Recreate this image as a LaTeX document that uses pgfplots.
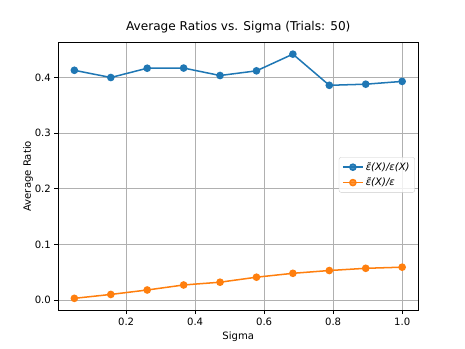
\documentclass[border=0pt]{standalone}
\usepackage{fontspec}
\setmainfont{DejaVu Sans}
\usepackage{pgfplots}
\pgfplotsset{compat=1.18}

\definecolor{tabblue}{HTML}{1F77B4}
\definecolor{taborange}{HTML}{FF7F0E}
\definecolor{gridgray}{HTML}{B0B0B0}

\begin{document}
\begin{tikzpicture}
\begin{axis}[
    name=ax,
    scale only axis,
    width=357pt, height=266pt,
    xmin=0.0025, xmax=1.0475,
    ymin=-0.019, ymax=0.464,
    xtick={0.2,0.4,0.6,0.8,1.0},
    ytick={0,0.1,0.2,0.3,0.4},
    /pgf/number format/assume math mode=true,
    xticklabel style={/pgf/number format/.cd,fixed,fixed zerofill,precision=1},
    yticklabel style={/pgf/number format/.cd,fixed,fixed zerofill,precision=1},
    tick align=outside,
    major tick length=3.5pt,
    tick style={black, line width=0.8pt},
    xtick pos=bottom, ytick pos=left,
    axis line style={line width=0.8pt},
    grid=major,
    major grid style={gridgray, line width=0.8pt},
    tick label style={font=\fontsize{10}{12}\selectfont},
    label style={font=\fontsize{10}{12}\selectfont},
    ylabel style={yshift=-5pt},
    title style={font=\fontsize{12}{14}\selectfont, yshift=-1pt},
    title={Average Ratios vs. Sigma (Trials: 50)},
    xlabel={Sigma},
    ylabel={Average Ratio},
    legend style={at={(0.99,0.505)}, anchor=east, draw=black!20,
        fill=white, fill opacity=0.8, text opacity=1, rounded corners=2pt,
        font=\fontsize{10}{12}\selectfont, row sep=2pt, inner sep=3pt},
    legend cell align=left,
    legend image code/.code={
        \draw[mark repeat=2,mark phase=2] plot coordinates {(0pt,0pt) (10pt,0pt) (20pt,0pt)};
    },
]
\addplot[tabblue, line width=1.5pt, mark=*, mark size=3pt, mark options={solid, fill=tabblue, draw=none}] coordinates {
    (0.05,0.413) (0.1556,0.400) (0.2611,0.4167) (0.3667,0.417) (0.4722,0.4036)
    (0.5778,0.412) (0.6833,0.442) (0.7889,0.386) (0.8944,0.388) (1.0,0.393)
};
\addlegendentry{\textit{ε̃(X)/ε(X)}}
\addplot[taborange, line width=1.5pt, mark=*, mark size=3pt, mark options={solid, fill=taborange, draw=none}] coordinates {
    (0.05,0.003) (0.1556,0.010) (0.2611,0.018) (0.3667,0.027) (0.4722,0.032)
    (0.5778,0.041) (0.6833,0.048) (0.7889,0.053) (0.8944,0.057) (1.0,0.059)
};
\addlegendentry{\textit{ε̃(X)/ε}}
\end{axis}
\path[use as bounding box] ([shift={(-57.4pt,-38pt)}]ax.south west) rectangle ([shift={(46pt,41.5pt)}]ax.north east);
\end{tikzpicture}
\end{document}
